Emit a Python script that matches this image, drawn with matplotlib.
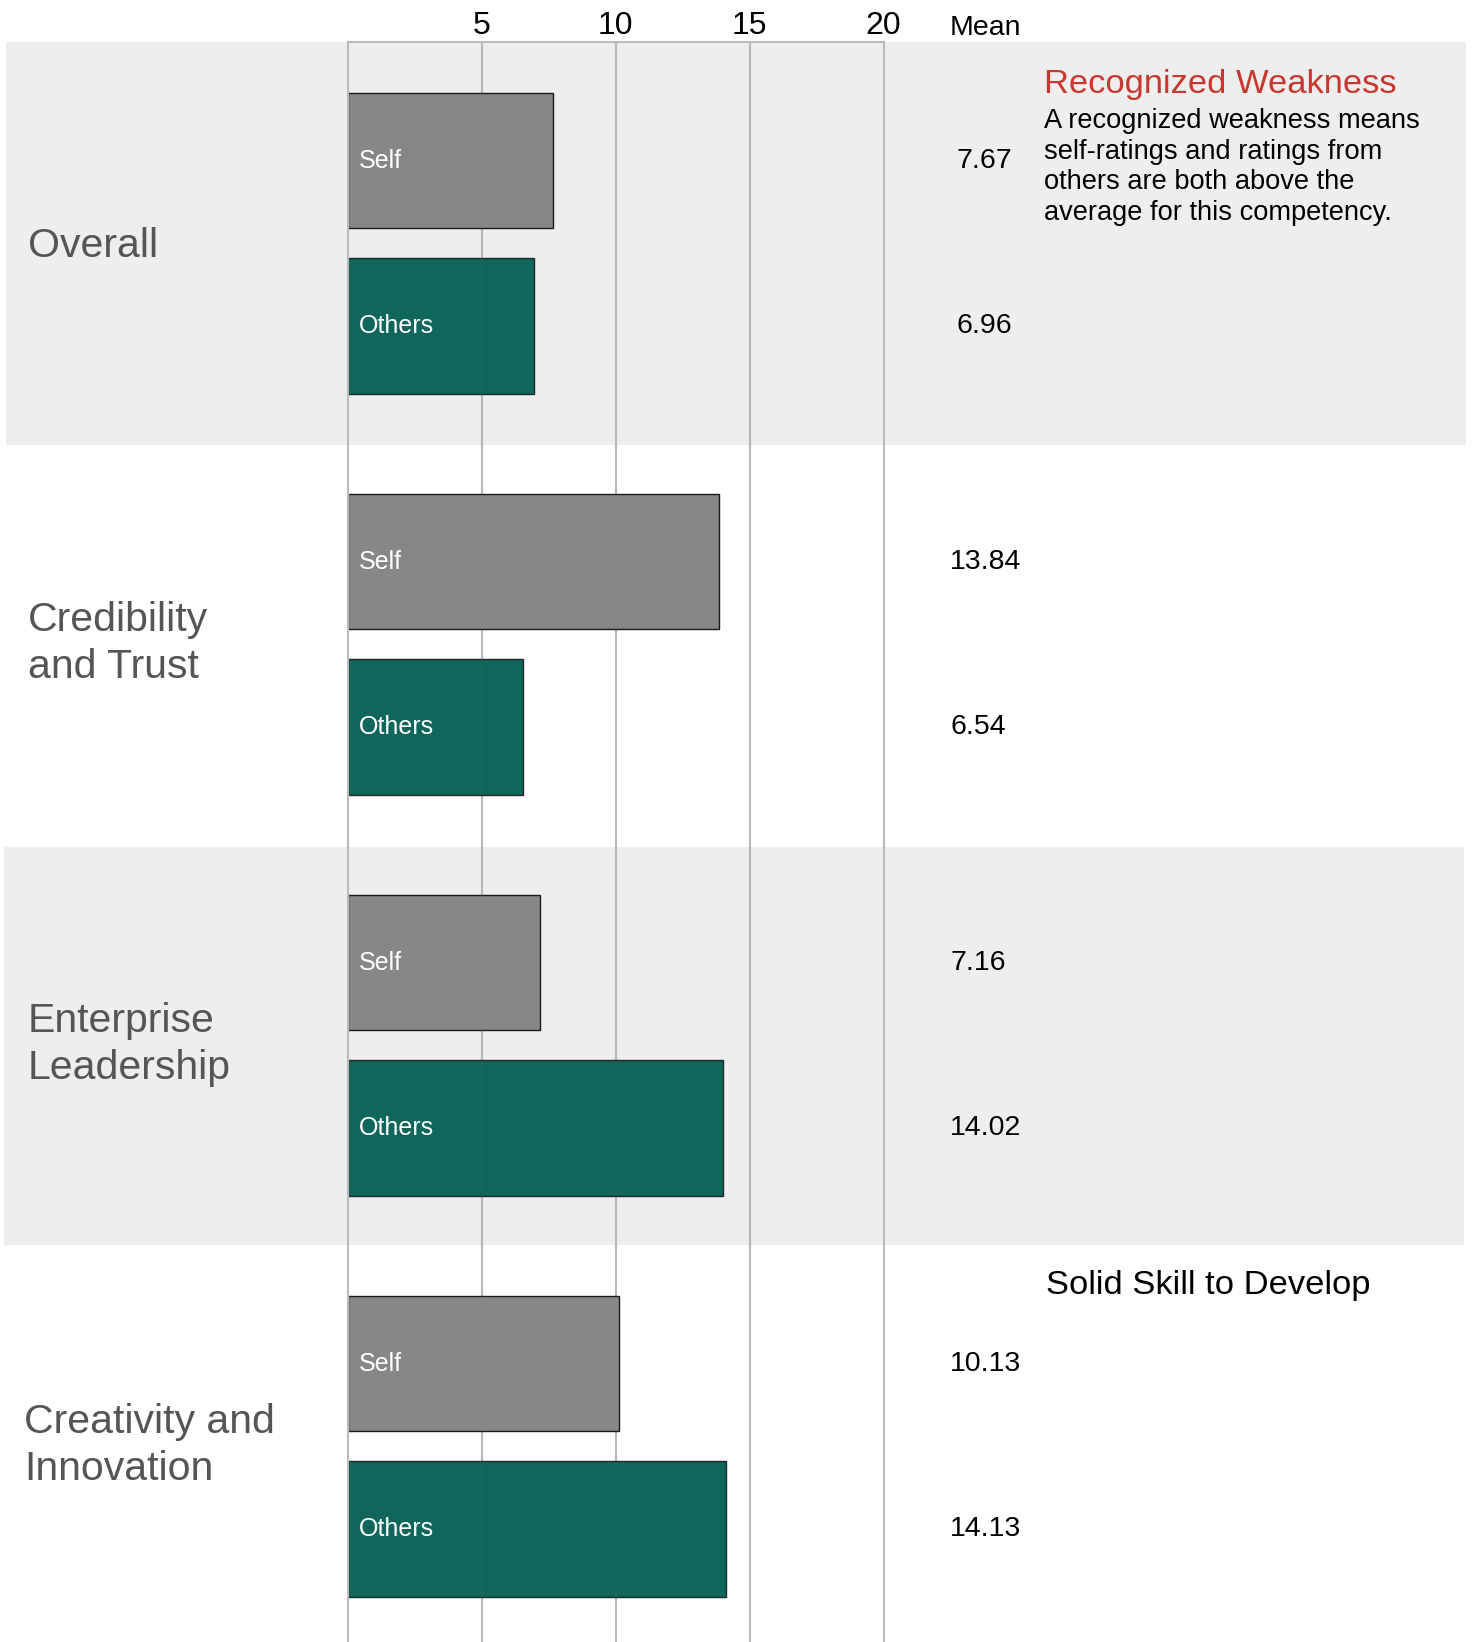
import matplotlib
matplotlib.use("Agg")
import matplotlib.pyplot as plt
import matplotlib.transforms as mtransforms

# Data
categories = ["Overall", "Credibility\nand Trust", "Enterprise\nLeadership", "Creativity and\nInnovation"]
self_scores = [7.67, 13.84, 7.16, 10.13]
others_scores = [6.96, 6.54, 14.02, 14.13]
x_ticks = [5, 10, 15, 20]

W, H = 1473, 1642
fig = plt.figure(figsize=(W / 100, H / 100), dpi=100)

sans = ["Liberation Sans", "DejaVu Sans"]

top_px = 42
group_px = 401
ax_h = (H - top_px) / H
y_bottom = (H - top_px) / group_px

# background bands (full width)
bg = fig.add_axes([0, 0, 1, ax_h], zorder=0)
bg.set_xlim(0, 1)
bg.set_ylim(y_bottom, 0)
bg.axis("off")
bg.axhspan(-0.005, 1.005, xmin=0.004, xmax=0.995, color="#eeeeee", lw=0)
bg.axhspan(2.007, 3.0, xmin=0.003, xmax=0.994, color="#eeeeee", lw=0)

# main bar axes
ax = fig.add_axes([348 / W, 0, (883.6 - 348) / W, ax_h], zorder=1)
ax.patch.set_alpha(0)
ax.set_xlim(0, 20)
ax.set_ylim(y_bottom, 0)

n = len(categories)
self_pos = [i + 0.296 for i in range(n)]
others_pos = [i + 0.708 for i in range(n)]
bar_h = 0.338

ax.barh(self_pos, self_scores, height=bar_h, color="#878787", edgecolor="#1a1a1a",
        linewidth=1, zorder=2)
ax.barh(others_pos, others_scores, height=bar_h, color="#10665b", edgecolor="#1c2a28",
        linewidth=1, zorder=2)

for i in range(n):
    ax.text(0.4, self_pos[i], "Self", color="white", fontsize=18, family=sans,
            va="center", ha="left", zorder=3)
    ax.text(0.4, others_pos[i], "Others", color="white", fontsize=18, family=sans,
            va="center", ha="left", zorder=3)

# grid and frame
for x in x_ticks[:-1]:
    ax.axvline(x, color="#bbbbbb", lw=1.5, zorder=1)
    # faint line showing through the bars
    ax.axvline(x, color="#888888", lw=1.5, alpha=0.08, zorder=2.5)
for s in ["left", "top", "right"]:
    ax.spines[s].set_color("#bbbbbb")
    ax.spines[s].set_linewidth(1.5)
ax.spines["bottom"].set_visible(False)
ax.set_yticks([])
ax.xaxis.tick_top()
ax.set_xticks(x_ticks)
ax.set_xticklabels([str(t) for t in x_ticks], family=sans, fontsize=23)
ax.tick_params(axis="x", length=0, pad=1)

# text blended: figure x, data y
trans = mtransforms.blended_transform_factory(fig.transFigure, ax.transData)

for i, cat in enumerate(categories):
    x0 = 24 / W if i == 3 else 28 / W
    dy = 0.008 if i == 0 else 0.0
    ax.text(x0, i + 0.5 + dy, cat, transform=trans, fontsize=29.5, family=sans,
            color="#555555", va="center", ha="left", linespacing=1.27)

# mean values
for i in range(n):
    if i == 0:
        xm, ha = 1012 / W, "right"
    else:
        xm, ha = 950 / W, "left"
    ax.text(xm, self_pos[i], f"{self_scores[i]:.2f}", transform=trans, fontsize=20.5,
            family=sans, va="center", ha=ha, color="black")
    ax.text(xm, others_pos[i], f"{others_scores[i]:.2f}", transform=trans, fontsize=20.5,
            family=sans, va="center", ha=ha, color="black")

fig.text(950 / W, 1 - 28 / H, "Mean", fontsize=20.5, family=sans, va="center", ha="left")

# annotations on the right
fig.text(1044 / W, 1 - 84 / H, "Recognized Weakness", fontsize=24.8, family=sans,
         color="#c8382e", va="center", ha="left")
fig.text(1044 / W, 1 - 167 / H,
         "A recognized weakness means\nself-ratings and ratings from\nothers are both above the\naverage for this competency.",
         fontsize=19.6, family=sans, color="black", va="center", ha="left", linespacing=1.23)
fig.text(1046 / W, 1 - 1285 / H, "Solid Skill to Develop", fontsize=24.8, family=sans,
         color="black", va="center", ha="left")

fig.savefig("out.png", dpi=100)
